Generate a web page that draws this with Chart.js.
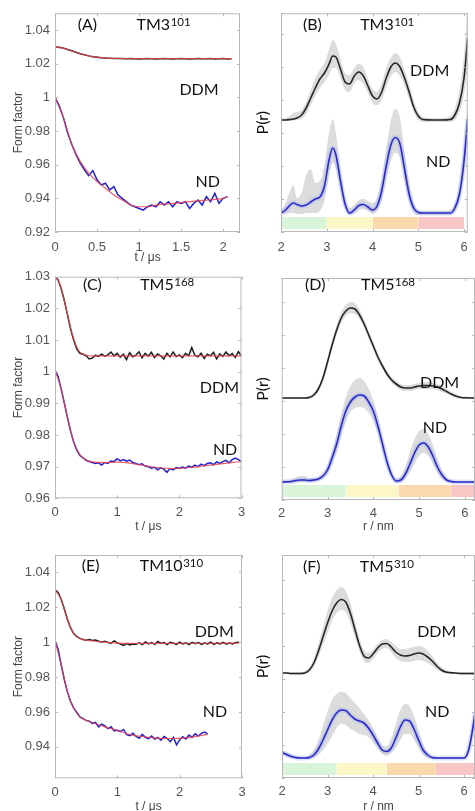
<!DOCTYPE html>
<html>
<head>
<meta charset="utf-8">
<script src="https://cdn.jsdelivr.net/npm/chart.js@4.4.1/dist/chart.umd.min.js"></script>
<style>
  html, body { margin: 0; padding: 0; background: #fff; overflow: hidden; }
  body { width: 475px; height: 811px; position: relative; }
  canvas { position: absolute; }
</style>
</head>
<body>
<canvas id="cA" width="242" height="268" style="left:0;top:0"></canvas>
<canvas id="cB" width="233" height="268" style="left:242px;top:0"></canvas>
<canvas id="cC" width="248" height="272" style="left:0;top:268px"></canvas>
<canvas id="cD" width="233" height="272" style="left:242px;top:268px"></canvas>
<canvas id="cE" width="248" height="276" style="left:0;top:540px"></canvas>
<canvas id="cF" width="233" height="276" style="left:242px;top:540px"></canvas>
<script>
// time axis of the DEER traces (us)
var tGrid = [0,0.05,0.1,0.15,0.2,0.25,0.3,0.35,0.4,0.45,0.5,0.55,0.6,0.65,0.7,0.75,0.8,0.85,0.9,0.95,
  1,1.05,1.1,1.15,1.2,1.25,1.3,1.35,1.4,1.45,1.5,1.55,1.6,1.65,1.7,1.75,1.8,1.85,1.9,1.95,
  2,2.05,2.1,2.15,2.2,2.25,2.3,2.35,2.4,2.45,2.5,2.55,2.6,2.65,2.7,2.75,2.8,2.85,2.9,2.95,3];

// (A) TM3-101 form factors
var aDdm = [1.0300,1.0298,1.0293,1.0285,1.0277,1.0268,1.0260,1.0253,1.0247,1.0242,1.0239,1.0236,1.0234,1.0233,1.0232,
  1.0231,1.0232,1.0230,1.0231,1.0230,1.0229,1.0230,1.0231,1.0230,1.0229,1.0230,1.0231,1.0230,1.0229,1.0230,
  1.0231,1.0230,1.0229,1.0230,1.0231,1.0230,1.0230,1.0231,1.0229,1.0230,1.0231,1.0229,1.0230];
var aNd = [1.000,0.995,0.988,0.979,0.972,0.966,0.961,0.957,0.9535,0.9565,0.951,0.948,0.949,0.945,0.947,0.942,0.940,
  0.938,0.936,0.935,0.934,0.933,0.935,0.936,0.935,0.938,0.936,0.938,0.935,0.938,0.937,0.938,0.934,0.937,0.939,
  0.936,0.941,0.938,0.943,0.937,0.940,0.941];
var aDdmFitT = [0,0.1,0.2,0.3,0.4,0.5,0.6,0.8,1.0,1.5,2.1];
var aDdmFit = [1.030,1.0293,1.0277,1.026,1.0247,1.0239,1.0234,1.0231,1.023,1.023,1.023];
var aNdFitT = [0,0.1,0.2,0.3,0.4,0.5,0.6,0.7,0.8,0.9,1.0,1.1,1.2,1.4,1.6,1.8,2.0,2.05];
var aNdFit = [1.0,0.988,0.972,0.962,0.955,0.950,0.946,0.942,0.939,0.936,0.935,0.935,0.936,0.937,0.938,0.939,0.940,0.941];

// (C) TM5-168 form factors
var cDdm = [1.0300,1.0290,1.0262,1.0225,1.0180,1.0135,1.0100,1.0072,1.0058,1.0055,
  1.0050,1.0040,1.0043,1.0052,1.0048,1.0055,1.0049,1.0053,1.0062,1.0050,
  1.0058,1.0046,1.0055,1.0038,1.0060,1.0047,1.0052,1.0063,1.0044,1.0058,
  1.0049,1.0061,1.0045,1.0056,1.0050,1.0040,1.0058,1.0047,1.0062,1.0048,
  1.0053,1.0044,1.0058,1.0050,1.0076,1.0052,1.0047,1.0058,1.0042,1.0055,
  1.0050,1.0061,1.0040,1.0056,1.0048,1.0062,1.0050,1.0057,1.0045,1.0063,1.0050];
var cNd = [1.0005,0.9985,0.9945,0.9900,0.9855,0.9812,0.9778,0.9752,0.9735,0.9728,
  0.9720,0.9716,0.9713,0.9710,0.9712,0.9705,0.9713,0.9710,0.9718,0.9716,
  0.9725,0.9718,0.9722,0.9717,0.9721,0.9713,0.9710,0.9706,0.9709,0.9702,
  0.9700,0.9695,0.9698,0.9690,0.9696,0.9692,0.9682,0.9694,0.9690,0.9697,
  0.9694,0.9699,0.9695,0.9702,0.9698,0.9705,0.9700,0.9708,0.9703,0.9710,
  0.9712,0.9706,0.9715,0.9710,0.9716,0.9720,0.9712,0.9722,0.9727,0.9722,0.9716];
var cDdmFitT = [0,0.05,0.1,0.15,0.2,0.25,0.3,0.35,0.4,0.5,0.6,1.0,2.0,3.0];
var cDdmFit = [1.030,1.0288,1.0262,1.0224,1.0182,1.0140,1.0104,1.0078,1.0062,1.0052,1.0050,1.0050,1.0050,1.0050];
var cNdFitT = [0,0.1,0.2,0.3,0.4,0.5,0.6,0.8,1.0,1.3,1.6,1.9,2.2,2.5,2.8,3.0];
var cNdFit = [1.0005,0.9945,0.9858,0.9780,0.9738,0.9722,0.9715,0.9713,0.9714,0.9708,0.9698,0.9694,0.9698,0.9705,0.9712,0.9716];

// (E) TM10-310 form factors
var eDdm = [1.0300,1.0285,1.0245,1.0190,1.0130,1.0082,1.0050,1.0032,1.0022,1.0016,
  1.0012,1.0015,1.0010,1.0013,1.0006,1.0002,1.0006,0.9998,0.9995,1.0008,
  0.9996,0.9990,0.9982,0.9992,0.9985,0.9990,0.9988,0.9996,0.9986,1.0002,
  0.9990,0.9998,0.9988,1.0004,0.9993,0.9998,0.9986,1.0000,0.9994,0.9988,
  1.0000,0.9990,0.9997,0.9986,0.9999,0.9992,0.9998,0.9987,0.9995,0.9990,
  1.0000,0.9988,0.9996,0.9990,0.9999,0.9989,0.9996,0.9990,0.9998,1.0000];
var eNd = [1.0010,0.9960,0.9870,0.9785,0.9715,0.9660,0.9622,0.9598,0.9572,0.9562,
  0.9552,0.9548,0.9535,0.9540,0.9515,0.9530,0.9520,0.9505,0.9515,0.9492,
  0.9495,0.9488,0.9500,0.9470,0.9465,0.9478,0.9460,0.9450,0.9472,0.9455,
  0.9448,0.9462,0.9445,0.9455,0.9438,0.9460,0.9448,0.9430,0.9455,0.9412,
  0.9440,0.9458,0.9445,0.9468,0.9455,0.9475,0.9462,0.9478,0.9485,0.9475];
var eDdmFitT = [0,0.1,0.2,0.3,0.4,0.5,0.7,1.0,1.5,2.0,2.5,2.95];
var eDdmFit = [1.030,1.0245,1.013,1.005,1.0022,1.0012,1.0004,0.9995,0.9993,0.9994,0.9994,0.9995];
var eNdFitT = [0,0.1,0.2,0.3,0.4,0.5,0.6,0.8,1.0,1.2,1.5,1.8,2.1,2.45];
var eNdFit = [1.001,0.987,0.9715,0.9622,0.9572,0.9552,0.954,0.9515,0.9495,0.947,0.9455,0.9448,0.9452,0.9472];

// (B) TM3-101 distance distributions, r in nm
var rB = [2.0,2.1,2.2,2.27,2.35,2.45,2.55,2.65,2.75,2.85,2.95,3.05,3.13,3.2,3.3,3.4,3.5,3.6,3.7,3.8,
  3.9,4.0,4.1,4.2,4.3,4.4,4.5,4.6,4.7,4.8,4.9,5.0,5.1,5.3,5.5,5.7,5.8,5.9,6.0,6.08];
var bDdm = [0,0,0.005,0.01,0.02,0.05,0.12,0.22,0.32,0.41,0.47,0.56,0.64,0.63,0.51,0.38,0.36,0.44,0.48,0.44,
  0.34,0.24,0.21,0.28,0.42,0.53,0.57,0.53,0.42,0.28,0.13,0.04,0.005,0,0,0.005,0.05,0.17,0.42,0.82];
var bDdmHi = [0.01,0.02,0.04,0.07,0.08,0.10,0.18,0.30,0.42,0.50,0.57,0.70,0.80,0.76,0.61,0.47,0.45,0.52,0.56,0.53,
  0.41,0.31,0.28,0.37,0.52,0.62,0.67,0.63,0.50,0.36,0.20,0.08,0.03,0.02,0.02,0.04,0.12,0.30,0.65,1.1];
var bDdmLo = [-0.005,-0.01,-0.01,-0.005,0,0.01,0.06,0.15,0.24,0.32,0.38,0.45,0.52,0.52,0.41,0.30,0.28,0.37,0.40,0.36,
  0.27,0.17,0.15,0.20,0.33,0.44,0.48,0.44,0.34,0.21,0.08,0,-0.02,-0.02,-0.02,-0.02,0,0.08,0.25,0.55];
var bNd = [0,0.03,0.08,0.10,0.085,0.07,0.08,0.11,0.14,0.16,0.27,0.53,0.65,0.58,0.32,0.09,0,0.03,0.075,0.085,
  0.06,0.03,0.07,0.22,0.47,0.68,0.755,0.69,0.44,0.19,0.05,0.005,0,0,0,0,0.05,0.19,0.52,0.94];
var bNdHi = [0.02,0.10,0.22,0.28,0.15,0.20,0.38,0.44,0.30,0.32,0.48,0.80,0.94,0.80,0.45,0.16,0.05,0.08,0.13,0.14,
  0.12,0.10,0.16,0.35,0.65,0.92,1.04,0.95,0.62,0.30,0.10,0.03,0.02,0.02,0.02,0.03,0.10,0.28,0.70,1.1];
var bNdLo = [-0.01,-0.01,0,0,-0.01,-0.01,0,0,0,0.02,0.12,0.38,0.50,0.45,0.22,0.04,-0.02,-0.01,0.03,0.04,
  0.02,-0.01,0.02,0.12,0.33,0.52,0.60,0.55,0.32,0.10,0,-0.02,-0.02,-0.02,-0.02,-0.02,0.01,0.12,0.40,0.80];
var bEdges = [2, 3, 4, 5, 6];

// (D) TM5-168 distance distributions
var rD = [2.0,2.2,2.4,2.5,2.6,2.7,2.8,2.9,3.0,3.1,3.2,3.3,3.4,3.5,3.6,3.7,3.8,3.9,4.0,4.1,
  4.2,4.3,4.4,4.5,4.6,4.7,4.8,4.9,5.0,5.1,5.2,5.3,5.4,5.5,5.6,5.7,5.8,5.9,6.0,6.22];
var dDdm = [0,0,0,0,0.005,0.03,0.09,0.20,0.36,0.53,0.68,0.80,0.87,0.90,0.89,0.83,0.74,0.63,0.52,0.41,
  0.32,0.24,0.18,0.14,0.11,0.10,0.10,0.11,0.12,0.125,0.125,0.12,0.11,0.09,0.065,0.04,0.02,0.008,0.002,0];
var dDdmHi = [0.01,0.01,0.01,0.01,0.02,0.05,0.12,0.24,0.41,0.58,0.73,0.86,0.93,0.96,0.95,0.88,0.78,0.67,0.56,0.45,
  0.35,0.27,0.21,0.17,0.14,0.13,0.13,0.14,0.15,0.16,0.16,0.15,0.14,0.12,0.09,0.06,0.04,0.02,0.01,0.01];
var dDdmLo = [-0.01,-0.01,-0.01,-0.01,-0.01,0.01,0.06,0.16,0.31,0.48,0.63,0.75,0.82,0.85,0.84,0.79,0.70,0.59,0.48,0.37,
  0.29,0.21,0.15,0.11,0.08,0.07,0.07,0.08,0.09,0.09,0.09,0.09,0.08,0.06,0.04,0.02,0,-0.01,-0.01,-0.01];
var dNd = [0,0.005,0.02,0.02,0.015,0.02,0.03,0.06,0.12,0.24,0.38,0.56,0.71,0.80,0.85,0.87,0.86,0.80,0.71,0.56,
  0.38,0.20,0.07,0.01,0.02,0.08,0.18,0.29,0.37,0.39,0.35,0.26,0.15,0.07,0.02,0.005,0,0,0,0];
var dNdHi = [0.01,0.02,0.06,0.06,0.04,0.04,0.05,0.09,0.17,0.31,0.48,0.68,0.85,0.96,1.02,1.04,1.01,0.93,0.82,0.65,
  0.45,0.26,0.11,0.04,0.06,0.15,0.30,0.43,0.51,0.53,0.48,0.37,0.23,0.12,0.05,0.02,0.01,0.01,0.01,0.01];
var dNdLo = [-0.01,-0.01,0,0,-0.005,0,0.01,0.03,0.08,0.18,0.30,0.46,0.60,0.70,0.74,0.75,0.74,0.69,0.61,0.48,
  0.31,0.15,0.04,-0.01,-0.01,0.03,0.10,0.18,0.26,0.29,0.26,0.18,0.09,0.03,0,-0.01,-0.01,-0.01,-0.01,-0.01];
var dEdges = [2, 3.4, 4.55, 5.7, 6.22];

// (F) TM5-310 distance distributions
var rF = [2.0,2.1,2.2,2.3,2.4,2.5,2.6,2.7,2.8,2.9,3.0,3.1,3.2,3.3,3.4,3.5,3.6,3.7,3.8,3.9,
  4.0,4.1,4.2,4.3,4.4,4.5,4.6,4.7,4.8,4.9,5.0,5.1,5.2,5.3,5.4,5.5,5.6,5.8,6.0,6.1,6.2,6.24];
var fDdm = [0,0,-0.005,-0.005,-0.005,0,0.03,0.10,0.22,0.36,0.50,0.62,0.70,0.735,0.71,0.60,0.44,0.28,0.17,0.15,
  0.19,0.25,0.29,0.295,0.26,0.21,0.18,0.17,0.175,0.19,0.20,0.19,0.16,0.12,0.07,0.03,0.01,0,-0.005,-0.005,-0.005,-0.005];
var fDdmHi = [0.01,0.01,0.01,0.01,0.01,0.02,0.06,0.15,0.29,0.46,0.62,0.75,0.83,0.86,0.82,0.70,0.52,0.35,0.23,0.20,
  0.23,0.29,0.33,0.34,0.31,0.27,0.24,0.24,0.25,0.26,0.27,0.26,0.22,0.17,0.11,0.06,0.03,0.01,0.01,0.01,0.01,0.01];
var fDdmLo = [-0.01,-0.01,-0.02,-0.02,-0.02,-0.01,0.01,0.06,0.16,0.28,0.40,0.52,0.60,0.63,0.61,0.50,0.36,0.22,0.12,0.10,
  0.14,0.20,0.24,0.25,0.21,0.15,0.12,0.11,0.11,0.12,0.13,0.12,0.10,0.07,0.03,0.01,-0.01,-0.01,-0.02,-0.02,-0.02,-0.02];
var fNd = [0.055,0.035,0.015,0.005,0,0,0.005,0.03,0.09,0.18,0.28,0.38,0.45,0.48,0.475,0.43,0.39,0.37,0.35,0.30,
  0.23,0.15,0.08,0.065,0.10,0.20,0.31,0.38,0.37,0.29,0.18,0.08,0.03,0.005,0,0,0,0,0,0.08,0.32,0.45];
var fNdHi = [0.08,0.06,0.04,0.02,0.01,0.01,0.03,0.08,0.18,0.32,0.46,0.58,0.64,0.66,0.65,0.60,0.55,0.50,0.44,0.38,
  0.30,0.21,0.13,0.12,0.20,0.34,0.48,0.54,0.52,0.42,0.28,0.14,0.06,0.02,0.01,0.01,0.01,0.01,0.01,0.12,0.40,0.55];
var fNdLo = [0.035,0.015,0,-0.01,-0.01,-0.01,-0.01,0,0.03,0.08,0.14,0.22,0.30,0.34,0.33,0.29,0.27,0.24,0.23,0.21,
  0.16,0.10,0.04,0.02,0.05,0.10,0.18,0.24,0.24,0.18,0.10,0.03,0,-0.01,-0.01,-0.01,-0.01,-0.01,-0.01,0.05,0.25,0.36];
var fEdges = [2, 3.2, 4.3, 5.38, 6.24];

// reliability bar colours, short to long distances
var barColors = ['#d9f4d9', '#fdf7c8', '#fbd9ac', '#f9c6c6'];

var tickFamily = '"Liberation Sans", Arial, sans-serif';
var textFamily = 'Lato, "Open Sans", sans-serif';
var fitRed = 'rgba(232,70,75,0.85)';
var bandGrey = '#dcdcdc';

function pts(xs, ys, off) {
  off = off || 0;
  return ys.map(function (y, i) { return {x: xs[i], y: y + off}; });
}
function fmt(v) { return String(Math.round(v * 1000) / 1000); }

// boxed axes with small inward ticks
var boxPlugin = {
  id: 'box',
  afterDatasetsDraw: function (chart) {
    var ctx = chart.ctx, a = chart.chartArea, sx = chart.scales.x, sy = chart.scales.y;
    ctx.save();
    ctx.strokeStyle = '#b8b8b8';
    ctx.lineWidth = 1;
    ctx.strokeRect(a.left + 0.5, a.top + 0.5, a.right - a.left - 1, a.bottom - a.top - 1);
    ctx.beginPath();
    sx.ticks.forEach(function (t) {
      var px = Math.round(sx.getPixelForValue(t.value)) + 0.5;
      ctx.moveTo(px, a.bottom); ctx.lineTo(px, a.bottom - 3);
      ctx.moveTo(px, a.top); ctx.lineTo(px, a.top + 3);
    });
    sy.ticks.forEach(function (t) {
      var py = Math.round(sy.getPixelForValue(t.value)) + 0.5;
      ctx.moveTo(a.left, py); ctx.lineTo(a.left + 3, py);
      ctx.moveTo(a.right, py); ctx.lineTo(a.right - 3, py);
    });
    ctx.stroke();
    ctx.restore();
  }
};

// panel captions and curve names, placed in data units
function textPlugin(items) {
  return {
    id: 'panelText',
    afterDraw: function (chart) {
      var ctx = chart.ctx, sx = chart.scales.x, sy = chart.scales.y;
      ctx.save();
      ctx.fillStyle = '#111';
      ctx.textBaseline = 'middle';
      ctx.textAlign = 'left';
      items.forEach(function (it) {
        var px = sx.getPixelForValue(it.x), py = sy.getPixelForValue(it.y);
        ctx.font = '16px ' + textFamily;
        ctx.fillText(it.text, px, py);
        if (it.sup) {
          var w = ctx.measureText(it.text).width;
          ctx.font = '11.5px ' + textFamily;
          ctx.fillText(it.sup, px + w + 0.5, py - 3);
        }
      });
      ctx.restore();
    }
  };
}

function xScale(o) {
  return {
    type: 'linear', min: o.xMin, max: o.xMax,
    grid: {display: false, drawTicks: false}, border: {display: false},
    ticks: {stepSize: o.xStep, includeBounds: false, autoSkip: false, maxRotation: 0,
      padding: o.tickPad, color: '#555', font: {family: tickFamily, size: 13}, callback: fmt},
    title: {display: true, text: o.xTitle, color: '#444', font: {family: tickFamily, size: 12},
      padding: {top: 0, bottom: o.titlePad}},
    afterFit: function (s) { s.height = o.xH; s.paddingLeft = 0; s.paddingRight = 0; }
  };
}

function traceChart(id, o) {
  new Chart(document.getElementById(id), {
    type: 'line',
    data: {
      datasets: [
        {data: pts(o.ddmFitT, o.ddmFit), borderColor: fitRed, borderWidth: 1.2, cubicInterpolationMode: 'monotone', order: 0},
        {data: pts(o.ndFitT, o.ndFit), borderColor: fitRed, borderWidth: 1.2, cubicInterpolationMode: 'monotone', order: 0},
        {data: pts(tGrid, o.ddm), borderColor: '#1e1e1e', borderWidth: 1.5, order: 1},
        {data: pts(tGrid, o.nd), borderColor: '#2020d2', borderWidth: 1.5, order: 1}
      ]
    },
    options: {
      responsive: false, animation: false, events: [],
      layout: {padding: {top: o.padTop, right: o.padRight, left: 0, bottom: 0}},
      elements: {point: {radius: 0}, line: {tension: 0, fill: false}},
      plugins: {legend: {display: false}, tooltip: {enabled: false}},
      scales: {
        x: xScale(o),
        y: {
          type: 'linear', min: o.yMin, max: o.yMax,
          grid: {display: false, drawTicks: false}, border: {display: false},
          ticks: {stepSize: o.yStep, includeBounds: false, padding: 5, color: '#555',
            font: {family: tickFamily, size: 13}, callback: fmt},
          title: {display: true, text: 'Form factor', color: '#444', font: {family: tickFamily, size: 12},
            padding: {top: 11, bottom: 0}},
          afterFit: function (s) { s.width = 55; s.paddingTop = 0; s.paddingBottom = 0; }
        }
      }
    },
    plugins: [boxPlugin, textPlugin(o.labels)]
  });
}

function distChart(id, o) {
  var barLo = 0.03, barHi = 0.15;
  var ds = [
    {data: pts(o.r, o.ddmLo, o.ddmOff), borderWidth: 0, borderColor: 'transparent', fill: false, order: 5},
    {data: pts(o.r, o.ddmHi, o.ddmOff), borderWidth: 0, borderColor: 'transparent', fill: '-1', backgroundColor: bandGrey, order: 5},
    {data: pts(o.r, o.ndLo, o.ndOff), borderWidth: 0, borderColor: 'transparent', fill: false, order: 5},
    {data: pts(o.r, o.ndHi, o.ndOff), borderWidth: 0, borderColor: 'transparent', fill: '-1', backgroundColor: bandGrey, order: 5},
    {data: pts(o.r, o.ddm, o.ddmOff), borderColor: '#262626', borderWidth: 1.6, order: 1},
    {data: pts(o.r, o.nd, o.ndOff), borderColor: 'rgba(140,160,235,0.3)', borderWidth: 5, order: 2},
    {data: pts(o.r, o.nd, o.ndOff), borderColor: '#2a2acc', borderWidth: 1.6, order: 1}
  ];
  o.edges.slice(0, -1).forEach(function (e, i) {
    ds.push({data: [{x: e, y: barHi}, {x: o.edges[i + 1], y: barHi}],
      borderWidth: 0, borderColor: 'transparent', fill: {value: barLo}, backgroundColor: barColors[i], order: 6});
  });
  new Chart(document.getElementById(id), {
    type: 'line',
    data: {datasets: ds},
    options: {
      responsive: false, animation: false, events: [],
      layout: {padding: {top: o.padTop, right: o.padRight, left: 0, bottom: 0}},
      elements: {point: {radius: 0}, line: {cubicInterpolationMode: 'monotone'}},
      plugins: {legend: {display: false}, tooltip: {enabled: false}},
      scales: {
        x: xScale(o),
        y: {
          type: 'linear', min: 0, max: o.yMax,
          grid: {display: false, drawTicks: false}, border: {display: false},
          ticks: {display: false, stepSize: 0.33},
          title: {display: true, text: 'P(r)', color: '#111', font: {family: textFamily, size: 16},
            padding: {top: 11, bottom: 0}},
          afterFit: function (s) { s.width = o.yW; s.paddingTop = 0; s.paddingBottom = 0; }
        }
      }
    },
    plugins: [boxPlugin, textPlugin(o.labels)]
  });
}

traceChart('cA', {
  ddm: aDdm, nd: aNd, ddmFitT: aDdmFitT, ddmFit: aDdmFit, ndFitT: aNdFitT, ndFit: aNdFit,
  xMin: 0, xMax: 2.2, xStep: 0.5, yMin: 0.92, yMax: 1.05, yStep: 0.02,
  xTitle: 't / \u03bcs', tickPad: 8, titlePad: 3, xH: 36, padTop: 13.3, padRight: 2,
  labels: [{text: '(A)', x: 0.27, y: 1.043}, {text: 'TM3', sup: '101', x: 0.97, y: 1.043},
    {text: 'DDM', x: 1.48, y: 1.0044}, {text: 'ND', x: 1.67, y: 0.9497}]
});

distChart('cB', {
  r: rB, ddm: bDdm, ddmHi: bDdmHi, ddmLo: bDdmLo, nd: bNd, ndHi: bNdHi, ndLo: bNdLo,
  ddmOff: 1.12, ndOff: 0.19, edges: bEdges,
  xMin: 2, xMax: 6.08, xStep: 1, yMax: 2.187, yW: 39,
  xTitle: '', tickPad: 8, titlePad: 0, xH: 36, padTop: 13.3, padRight: 7.3,
  labels: [{text: '(B)', x: 2.48, y: 2.07}, {text: 'TM3', sup: '101', x: 3.73, y: 2.07},
    {text: 'DDM', x: 4.82, y: 1.61}, {text: 'ND', x: 5.17, y: 0.70}]
});

traceChart('cC', {
  ddm: cDdm, nd: cNd, ddmFitT: cDdmFitT, ddmFit: cDdmFit, ndFitT: cNdFitT, ndFit: cNdFit,
  xMin: 0, xMax: 3, xStep: 1, yMin: 0.96, yMax: 1.03, yStep: 0.01,
  xTitle: 't / \u03bcs', tickPad: 6.5, titlePad: 6, xH: 41.7, padTop: 8.7, padRight: 6.5,
  labels: [{text: '(C)', x: 0.45, y: 1.0274}, {text: 'TM5', sup: '168', x: 1.37, y: 1.0274},
    {text: 'DDM', x: 2.33, y: 0.9948}, {text: 'ND', x: 2.54, y: 0.9753}]
});

distChart('cD', {
  r: rD, ddm: dDdm, ddmHi: dDdmHi, ddmLo: dDdmLo, nd: dNd, ndHi: dNdHi, ndLo: dNdLo,
  ddmOff: 1.02, ndOff: 0.18, edges: dEdges,
  xMin: 2, xMax: 6.22, xStep: 1, yMax: 2.22, yW: 39.7,
  xTitle: 'r / nm', tickPad: 6, titlePad: 6, xH: 40, padTop: 10, padRight: 0,
  labels: [{text: '(D)', x: 2.51, y: 2.15}, {text: 'TM5', sup: '168', x: 3.73, y: 2.15},
    {text: 'DDM', x: 5.02, y: 1.17}, {text: 'ND', x: 5.08, y: 0.72}]
});

traceChart('cE', {
  ddm: eDdm, nd: eNd, ddmFitT: eDdmFitT, ddmFit: eDdmFit, ndFitT: eNdFitT, ndFit: eNdFit,
  xMin: 0, xMax: 3, xStep: 1, yMin: 0.922, yMax: 1.05, yStep: 0.02,
  xTitle: 't / \u03bcs', tickPad: 6.5, titlePad: 2, xH: 37.7, padTop: 15, padRight: 6,
  labels: [{text: '(E)', x: 0.43, y: 1.0437}, {text: 'TM10', sup: '310', x: 1.36, y: 1.0437},
    {text: 'DDM', x: 2.24, y: 1.0062}, {text: 'ND', x: 2.37, y: 0.96}]
});

distChart('cF', {
  r: rF, ddm: fDdm, ddmHi: fDdmHi, ddmLo: fDdmLo, nd: fNd, ndHi: fNdHi, ndLo: fNdLo,
  ddmOff: 1.05, ndOff: 0.2, edges: fEdges,
  xMin: 2, xMax: 6.24, xStep: 1, yMax: 2.23, yW: 40,
  xTitle: 'r / nm', tickPad: 6, titlePad: 2, xH: 38, padTop: 15, padRight: 0,
  labels: [{text: '(F)', x: 2.46, y: 2.11}, {text: 'TM5', sup: '310', x: 3.71, y: 2.11},
    {text: 'DDM', x: 4.97, y: 1.46}, {text: 'ND', x: 5.14, y: 0.66}]
});
</script>
</body>
</html>
